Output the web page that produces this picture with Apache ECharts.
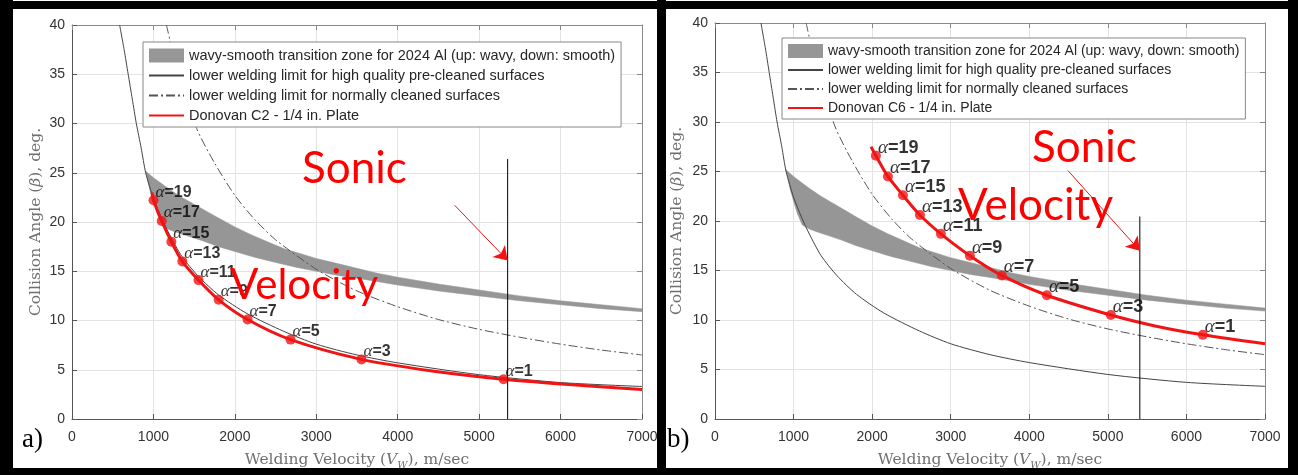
<!DOCTYPE html>
<html>
<head>
<meta charset="utf-8">
<script src="https://cdn.jsdelivr.net/npm/echarts@6/dist/echarts.min.js"></script>
<style>html,body{margin:0;padding:0;background:#fff}#c{width:1298px;height:475px}</style>
</head>
<body>
<div id="c"></div>
<script>
// ---------- DATA ----------
const xTickMin = 0, xTickMax = 7000, xTickStep = 1000;
const yTickMin = 0, yTickMax = 40, yTickStep = 5;

// wavy-smooth transition zone (upper and lower edges)
const bandUpperV = [900,1000,1100,1200,1350,1500,1650,1800,2000,2200,2400,2600,2800,3000,3250,3500,3750,4000,4500,5000,5500,6000,6500,7000];
const bandUpperB = [25.2,24.5,23.9,23.3,22.5,21.8,21.1,20.4,19.5,18.7,18.0,17.3,16.8,16.3,15.8,15.3,14.8,14.4,13.7,13.1,12.5,12.0,11.6,11.2];
const bandLowerV = [900,930,960,1000,1050,1110,1200,1300,1450,1600,1800,2000,2250,2500,2750,3000,3250,3500,4000,4500,5000,5500,6000,6500,7000];
const bandLowerB = [25.2,24.2,23.1,22.0,20.7,19.6,19.2,18.9,18.5,18.1,17.5,17.0,16.4,15.9,15.4,15.0,14.6,14.3,13.6,13.0,12.5,12.0,11.6,11.2,10.9];

// lower welding limit, high quality pre-cleaned surfaces
const hqLimitV = [585,640,690,740,790,850,905,1000,1100,1200,1350,1550,1800,2150,2600,3000,3500,4000,5000,6000,7000];
const hqLimitB = [40,37.5,35,32.5,30,27.5,25,22.4,20.4,18.7,16.5,14.5,12.6,10.7,8.9,7.6,6.5,5.7,4.5,3.7,3.3];

// lower welding limit, normally cleaned surfaces
const ncLimitV = [1160,1300,1530,1750,2000,2250,2500,3000,3500,4000,4500,5000,5500,6000,6500,7000];
const ncLimitB = [40,35.2,29.5,26.0,22.7,20.2,18.2,15.2,13.0,11.4,10.1,9.1,8.3,7.6,7.0,6.5];

// Donovan C2 (panel a)
const c2CurveV = [982,1001,1102,1220,1355,1553,1801,2156,2684,3555,4400,5300,6013,7000];
const c2CurveB = [23.0,22.2,20.1,18.0,16.0,14.1,12.1,10.1,8.06,6.05,4.9,4.03,3.55,3.0];
const alphaValues = [19,17,15,13,11,9,7,5,3,1];
const c2AlphaV = [1001,1102,1220,1355,1553,1801,2156,2684,3555,5300];
const c2AlphaB = [22.2,20.1,18.0,16.0,14.1,12.1,10.1,8.06,6.05,4.03];

// Donovan C6 (panel b)
const c6CurveV = [1985,2048,2201,2392,2608,2875,3244,3651,4224,5038,5600,6209,7000];
const c6CurveB = [27.5,26.6,24.5,22.6,20.6,18.7,16.5,14.5,12.5,10.5,9.4,8.5,7.6];
const c6AlphaV = [2048,2201,2392,2608,2875,3244,3651,4224,5038,6209];
const c6AlphaB = [26.6,24.5,22.6,20.6,18.7,16.5,14.5,12.5,10.5,8.5];

// sonic velocity markers
const sonicA = { v: 5350, top: 26.4 };
const sonicB = { v: 5407, top: 20.45 };
const arrowA = { from: [4699, 21.7], to: [5350, 16.1] };
const arrowB = { from: [4491, 25.1], to: [5407, 17.0] };

const nameBand = 'wavy-smooth transition zone for 2024 Al (up: wavy, down: smooth)';
const nameHQ = 'lower welding limit for high quality pre-cleaned surfaces';
const nameNC = 'lower welding limit for normally cleaned surfaces';
const nameC2 = 'Donovan C2 - 1/4 in. Plate';
const nameC6 = 'Donovan C6 - 1/4 in. Plate';

// ---------- helpers ----------
const zip = (a, b) => a.map((v, i) => [v, b[i]]);
const bandPolygon = zip(bandUpperV, bandUpperB).concat(zip(bandLowerV, bandLowerB).reverse());

const BAND_COLOR = '#969696';
const RED = '#f01414';
const SANS = '"Liberation Sans", Arial, sans-serif';
const SERIF = '"DejaVu Serif", "Liberation Serif", serif';
const NAME_SIZE = 15.5;

function xAxes(grid, nameGap) {
  return [{
    type: 'value', gridIndex: grid, position: 'bottom', min: xTickMin, max: xTickMax, interval: xTickStep,
    axisLine: { onZero: false, lineStyle: { color: '#555', width: 1 } },
    axisTick: { inside: true, length: 5, lineStyle: { color: '#555' } },
    axisLabel: { color: '#333', fontFamily: SANS, fontSize: 14, margin: 11, formatter: v => String(v) },
    splitLine: { show: true, lineStyle: { color: '#e3e3e3', width: 1 } },
    name: 'Welding Velocity ({i|V}{s|W}), m/sec', nameLocation: 'middle', nameGap: nameGap,
    nameTextStyle: { color: '#707070', fontFamily: SERIF, fontSize: NAME_SIZE, lineHeight: 20,
      rich: { i: { fontStyle: 'italic', fontFamily: SERIF, fontSize: NAME_SIZE, color: '#707070' },
              s: { fontStyle: 'italic', fontFamily: SERIF, fontSize: 10, color: '#707070', verticalAlign: 'bottom', lineHeight: 20 } } }
  }, {
    type: 'value', gridIndex: grid, position: 'top', min: xTickMin, max: xTickMax, interval: xTickStep,
    axisLine: { onZero: false, lineStyle: { color: '#8a8a8a', width: 1 } },
    axisTick: { inside: true, length: 5, lineStyle: { color: '#8a8a8a' } },
    axisLabel: { show: false }, splitLine: { show: false }
  }];
}
function yAxes(grid, nameGap) {
  return [{
    type: 'value', gridIndex: grid, position: 'left', min: yTickMin, max: yTickMax, interval: yTickStep,
    axisLine: { show: true, onZero: false, lineStyle: { color: '#555', width: 1 } },
    axisTick: { show: true, inside: true, length: 5, lineStyle: { color: '#555' } },
    axisLabel: { color: '#333', fontFamily: SANS, fontSize: 14, margin: 7 },
    splitLine: { show: true, lineStyle: { color: '#e3e3e3', width: 1 } },
    name: 'Collision Angle ({i|β}), deg.', nameLocation: 'middle', nameGap: nameGap, nameRotate: 90,
    nameTextStyle: { color: '#707070', fontFamily: SERIF, fontSize: NAME_SIZE,
      rich: { i: { fontStyle: 'italic', fontFamily: SERIF, fontSize: NAME_SIZE, color: '#707070' } } }
  }, {
    type: 'value', gridIndex: grid, position: 'right', min: yTickMin, max: yTickMax, interval: yTickStep,
    axisLine: { show: true, onZero: false, lineStyle: { color: '#8a8a8a', width: 1 } },
    axisTick: { show: true, inside: true, length: 5, lineStyle: { color: '#8a8a8a' } },
    axisLabel: { show: false }, splitLine: { show: false }
  }];
}

function panelSeries(xi, yi, redName, curveV, curveB, alphaV, alphaB, sonic, arrow, labelSize, alphaSize) {
  return [
    {
      name: nameBand, type: 'custom', xAxisIndex: xi, yAxisIndex: yi, z: 2,
      itemStyle: { color: BAND_COLOR },
      data: [[bandUpperV[0], bandUpperB[0]]],
      encode: { x: 0, y: 1 },
      renderItem: function (params, api) {
        return { type: 'polygon', shape: { points: bandPolygon.map(p => api.coord(p)) },
                 style: { fill: BAND_COLOR, stroke: BAND_COLOR, lineWidth: 0.5 } };
      },
      silent: true
    },
    {
      name: nameNC, type: 'line', xAxisIndex: xi, yAxisIndex: yi, z: 3, symbol: 'none', showSymbol: false,
      smooth: 0.25, data: zip(ncLimitV, ncLimitB),
      lineStyle: { color: '#555', width: 1, type: [9, 3, 2, 3] }, itemStyle: { color: '#555' }
    },
    {
      name: nameHQ, type: 'line', xAxisIndex: xi, yAxisIndex: yi, z: 3, symbol: 'none', showSymbol: false,
      smooth: 0.25, data: zip(hqLimitV, hqLimitB),
      lineStyle: { color: '#444', width: 1 }, itemStyle: { color: '#444' }
    },
    {
      name: redName, type: 'line', xAxisIndex: xi, yAxisIndex: yi, z: 4, symbol: 'none', showSymbol: false,
      smooth: 0.3, data: zip(curveV, curveB),
      lineStyle: { color: RED, width: 3 }, itemStyle: { color: RED }
    },
    {
      name: redName + ' points', type: 'scatter', xAxisIndex: xi, yAxisIndex: yi, z: 5,
      symbol: 'circle', symbolSize: 10, itemStyle: { color: RED },
      data: alphaV.map((v, i) => [v, alphaB[i], alphaValues[i]]),
      label: {
        show: true, position: 'right', distance: 0, offset: [-3, -8],
        formatter: p => '{a|α}{b|=' + p.value[2] + '}',
        rich: {
          a: { fontFamily: '"Liberation Serif", serif', fontStyle: 'italic', fontSize: alphaSize, color: '#000' },
          b: { fontFamily: SANS, fontWeight: 'bold', fontSize: labelSize, color: '#000' }
        }
      }
    },
    {
      name: 'sonic line', type: 'line', xAxisIndex: xi, yAxisIndex: yi, z: 6, symbol: 'none',
      data: [[sonic.v, yTickMin], [sonic.v, sonic.top]],
      lineStyle: { color: '#000', width: 1 }
    },
    {
      name: 'sonic arrow', type: 'lines', coordinateSystem: 'cartesian2d', xAxisIndex: xi, yAxisIndex: yi, z: 7,
      symbol: ['none', 'arrow'], symbolSize: 13,
      lineStyle: { color: RED, width: 1, opacity: 1 },
      data: [{ coords: [arrow.from, arrow.to] }]
    }
  ];
}

function legendFor(left, top, redName, fontSize) {
  const noSym = { opacity: 0 };
  return {
    left: left, top: top, orient: 'vertical', itemWidth: 35, itemHeight: 14, itemGap: 5,
    padding: [6, 6, 4, 5], borderColor: '#888', borderWidth: 1, backgroundColor: '#fff',
    selectedMode: false,
    textStyle: { color: '#262626', fontFamily: SANS, fontSize: fontSize, lineHeight: 14 },
    data: [
      { name: nameBand, icon: 'rect', itemStyle: { color: BAND_COLOR } },
      { name: nameHQ, itemStyle: noSym },
      { name: nameNC, itemStyle: noSym },
      { name: redName, itemStyle: noSym }
    ]
  };
}

const chart = echarts.init(document.getElementById('c'), null, { renderer: 'canvas' });
chart.setOption({
  backgroundColor: '#fff',
  animation: false,
  grid: [
    { left: 72, top: 25, width: 570, height: 397 },
    { left: 715, top: 23, width: 550, height: 399 }
  ],
  xAxis: xAxes(0, 31).concat(xAxes(1, 31)),
  yAxis: yAxes(0, 28).concat(yAxes(1, 30)),
  legend: [legendFor(143, 42, nameC2, 14.5), legendFor(782, 38, nameC6, 14)],
  series: panelSeries(0, 0, nameC2, c2CurveV, c2CurveB, c2AlphaV, c2AlphaB, sonicA, arrowA, 16, 17)
    .concat(panelSeries(2, 2, nameC6, c6CurveV, c6CurveB, c6AlphaV, c6AlphaB, sonicB, arrowB, 18, 19)),
  graphic: [
    { type: 'text', left: 302, top: 147, z: 50, style: { text: 'Sonic', fill: '#ff0000', font: '44px Lato, "Liberation Sans", sans-serif' } },
    { type: 'text', left: 230, top: 264, z: 50, style: { text: 'Velocity', fill: '#ff0000', font: '42px Lato, "Liberation Sans", sans-serif' } },
    { type: 'text', left: 1032, top: 126, z: 50, style: { text: 'Sonic', fill: '#ff0000', font: '44px Lato, "Liberation Sans", sans-serif' } },
    { type: 'text', left: 958, top: 184, z: 50, style: { text: 'Velocity', fill: '#ff0000', font: '44px Lato, "Liberation Sans", sans-serif' } },
    { type: 'text', left: 22, top: 426, z: 50, style: { text: 'a)', fill: '#000', font: '27px "Liberation Serif", serif' } },
    { type: 'text', left: 667, top: 426, z: 50, style: { text: 'b)', fill: '#000', font: '27px "Liberation Serif", serif' } },
    // black photo frame
    { type: 'rect', z: 100, shape: { x: 0, y: 1, width: 1298, height: 8 }, style: { fill: '#000' } },
    { type: 'rect', z: 100, shape: { x: 0, y: 0, width: 13, height: 475 }, style: { fill: '#000' } },
    { type: 'rect', z: 100, shape: { x: 0, y: 468, width: 1298, height: 7 }, style: { fill: '#000' } },
    { type: 'rect', z: 100, shape: { x: 657, y: 0, width: 9, height: 475 }, style: { fill: '#000' } },
    { type: 'rect', z: 100, shape: { x: 1288, y: 0, width: 10, height: 475 }, style: { fill: '#000' } }
  ]
});
</script>
</body>
</html>
